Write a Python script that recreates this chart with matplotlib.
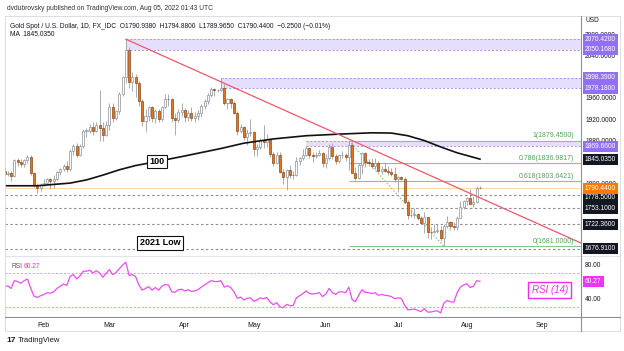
import numpy as np
import pandas as pd
import matplotlib
matplotlib.use('Agg')
import matplotlib.pyplot as plt
from matplotlib.lines import Line2D
from matplotlib.transforms import blended_transform_factory, offset_copy

plt.rcParams['font.family'] = ['Liberation Sans', 'DejaVu Sans']

# daily bars from 2022-01-14 to 2022-08-05 (weekdays)
start_date = '2022-01-14'

opens = [1822.0, 1817.8, 1819.5, 1812.9, 1842.6, 1839.6, 1835.4, 1843.2, 1848.5, 1819.9, 1796.6, 1791.2,
         1796.5, 1801.1, 1807.2, 1804.6, 1807.8, 1820.6, 1826.0, 1833.0, 1827.0, 1859.6, 1869.3, 1853.5,
         1869.7, 1898.1, 1898.2, 1905.5, 1898.3, 1910.1, 1903.3, 1889.6,
         1908.4, 1943.2, 1922.4, 1935.8, 1966.6, 1998.5, 2050.6, 1989.9, 2000.3, 1988.5, 1954.1, 1917.3,
         1927.0, 1942.8, 1921.4, 1935.6, 1921.0, 1943.9, 1958.1, 1958.0, 1922.7, 1918.9, 1933.3,
         1937.4, 1924.8, 1932.4, 1922.9, 1925.3, 1932.2, 1945.1, 1954.1, 1966.3, 1977.5, 1974.3, 1974.5,
         1978.5, 1950.3, 1958.2, 1951.1, 1931.9, 1898.4, 1905.0, 1886.3, 1894.7,
         1896.9, 1863.4, 1868.2, 1881.0, 1876.8, 1883.2, 1854.2, 1838.6, 1853.2, 1821.7, 1811.7, 1824.8,
         1815.9, 1815.8, 1841.6, 1846.3, 1853.6, 1865.5, 1853.4, 1851.0, 1853.3, 1855.9,
         1837.3, 1847.5, 1868.7, 1850.5, 1841.5, 1852.4, 1853.0, 1848.3, 1871.6, 1819.1, 1808.7, 1834.2,
         1857.0, 1840.5, 1838.7, 1832.6, 1838.4, 1822.7, 1826.7, 1822.5, 1820.6, 1817.6,
         1807.3, 1811.7, 1808.3, 1764.2, 1739.2, 1740.0, 1742.3, 1733.9, 1725.1, 1735.5, 1708.9, 1707.6,
         1709.2, 1711.2, 1696.2, 1718.5, 1727.2, 1719.3, 1717.3, 1735.0, 1755.8,
         1765.9, 1772.6, 1760.1, 1765.1, 1790.94]
highs = [1830.0, 1823.5, 1822.5, 1845.0, 1847.5, 1846.0, 1845.5, 1852.0, 1853.5, 1821.5, 1800.5, 1800.5,
         1807.5, 1809.0, 1809.5, 1815.5, 1823.0, 1829.0, 1836.0, 1842.0, 1865.0, 1873.0, 1874.5, 1873.5,
         1901.5, 1903.0, 1911.5, 1914.0, 1914.0, 1974.5, 1914.0, 1916.5,
         1950.0, 1950.5, 1937.0, 1970.5, 2002.0, 2070.4, 2056.0, 2009.0, 2004.5, 1992.0, 1958.5, 1939.5,
         1945.5, 1944.5, 1938.5, 1939.5, 1945.5, 1966.5, 1966.5, 1960.0, 1932.5, 1939.0, 1950.0,
         1941.0, 1937.5, 1943.5, 1934.0, 1936.5, 1948.0, 1958.5, 1970.0, 1981.0, 1978.5, 1977.5,
         1998.4, 1986.5, 1960.5, 1959.0, 1955.0, 1936.0, 1911.5, 1907.5, 1902.5, 1920.0,
         1898.5, 1873.5, 1884.5, 1909.5, 1892.0, 1884.5, 1859.0, 1858.5, 1858.0, 1827.0, 1826.0, 1834.5,
         1822.0, 1849.5, 1849.0, 1865.0, 1869.7, 1867.5, 1857.5, 1858.0, 1862.5, 1857.5,
         1855.5, 1874.0, 1874.5, 1854.5, 1855.0, 1860.0, 1857.0, 1879.45, 1877.0, 1831.0, 1837.5, 1857.5,
         1858.0, 1844.5, 1847.0, 1847.5, 1841.0, 1833.0, 1840.5, 1833.0, 1829.0, 1829.5,
         1812.5, 1813.5, 1812.0, 1768.5, 1752.0, 1752.5, 1744.0, 1737.5, 1745.5, 1736.0, 1717.0, 1723.5,
         1724.0, 1719.0, 1723.0, 1739.0, 1729.5, 1726.5, 1739.0, 1767.0, 1767.5,
         1774.5, 1788.0, 1776.0, 1794.0, 1794.88]
lows = [1812.5, 1813.0, 1804.5, 1811.5, 1833.0, 1830.0, 1831.0, 1838.0, 1815.5, 1793.5, 1780.5, 1785.5,
        1795.0, 1798.0, 1788.5, 1791.5, 1806.5, 1815.5, 1822.0, 1820.5, 1822.5, 1853.0, 1849.5, 1851.0,
        1865.5, 1886.5, 1895.0, 1890.0, 1896.0, 1878.5, 1878.5, 1888.0,
        1899.5, 1914.0, 1919.0, 1930.5, 1964.5, 1989.0, 1979.0, 1974.0, 1961.5, 1945.5, 1906.5, 1895.5,
        1916.0, 1915.5, 1913.5, 1914.0, 1916.5, 1941.0, 1944.5, 1915.5, 1890.0, 1915.0, 1926.5,
        1915.5, 1917.0, 1917.5, 1915.5, 1919.5, 1924.0, 1938.5, 1948.0, 1961.0, 1963.5, 1971.5,
        1973.5, 1946.5, 1938.5, 1940.5, 1929.5, 1891.0, 1894.5, 1880.5, 1872.5, 1888.0,
        1850.5, 1851.0, 1865.0, 1866.5, 1868.5, 1849.5, 1832.0, 1836.5, 1819.5, 1798.0, 1787.0, 1810.0,
        1807.0, 1813.0, 1834.5, 1844.0, 1851.5, 1846.5, 1840.5, 1847.0, 1850.5, 1830.5,
        1828.5, 1842.5, 1846.0, 1836.5, 1837.0, 1846.5, 1842.0, 1825.0, 1819.0, 1805.5, 1807.0, 1817.0,
        1830.5, 1832.0, 1829.0, 1826.5, 1821.0, 1817.5, 1820.5, 1816.0, 1812.5, 1802.5,
        1784.0, 1805.0, 1763.5, 1732.0, 1736.5, 1735.0, 1730.5, 1722.5, 1707.0, 1697.5, 1695.5, 1706.5,
        1705.5, 1692.0, 1681.0, 1715.5, 1712.0, 1711.5, 1711.5, 1735.0, 1750.5,
        1758.0, 1760.0, 1754.5, 1763.5, 1789.97]
closes = [1817.8, 1819.5, 1812.9, 1842.6, 1839.6, 1835.4, 1843.2, 1848.5, 1819.9, 1796.6, 1791.2, 1796.5,
          1801.1, 1807.2, 1804.6, 1807.8, 1820.6, 1826.0, 1833.0, 1827.0, 1859.6, 1869.3, 1853.5, 1869.7,
          1898.1, 1898.2, 1905.5, 1898.3, 1910.1, 1903.3, 1889.6, 1908.4,
          1943.2, 1922.4, 1935.8, 1966.6, 1998.5, 2050.6, 1989.9, 2000.3, 1988.5, 1954.1, 1917.3, 1927.0,
          1942.8, 1921.4, 1935.6, 1921.0, 1943.9, 1958.1, 1958.0, 1922.7, 1918.9, 1933.3, 1937.4,
          1924.8, 1932.4, 1922.9, 1925.3, 1932.2, 1945.1, 1954.1, 1966.3, 1977.5, 1974.3, 1974.5,
          1978.5, 1950.3, 1958.2, 1951.1, 1931.9, 1898.4, 1905.0, 1886.3, 1894.7, 1896.9,
          1863.4, 1868.2, 1881.0, 1876.8, 1883.2, 1854.2, 1838.6, 1853.2, 1821.7, 1811.7, 1824.8, 1815.9,
          1815.8, 1841.6, 1846.3, 1853.6, 1865.5, 1853.4, 1851.0, 1853.3, 1855.9, 1837.3,
          1847.5, 1868.7, 1850.5, 1841.5, 1852.4, 1853.0, 1848.3, 1871.6, 1819.1, 1808.7, 1834.2, 1857.0,
          1840.5, 1838.7, 1832.6, 1838.4, 1822.7, 1826.7, 1822.5, 1820.6, 1817.6, 1807.3,
          1811.7, 1808.3, 1764.2, 1739.2, 1740.0, 1742.3, 1733.9, 1725.1, 1735.5, 1708.9, 1707.6, 1709.2,
          1711.2, 1696.2, 1718.5, 1727.2, 1719.3, 1717.3, 1735.0, 1755.8, 1765.9,
          1772.6, 1760.1, 1765.1, 1790.6, 1790.44]

rsi = [54, 55, 52, 61, 60, 58, 61, 63, 52, 43, 41.5, 43.5,
       45, 47, 46.5, 48, 52, 54.5, 57, 55.5, 66, 68, 63, 66.5, 72, 72, 73, 70, 72.5, 70, 65, 69.5,
       74, 68, 70.5, 75, 79, 82.5, 67, 68, 65.5, 56, 50, 52, 54, 50, 53, 50, 54.5, 56.5, 56, 48, 47.5, 50.5, 51,
       49, 50.5, 48.5, 49, 50.5, 53.5, 56, 58.5, 61, 60, 60, 61, 53.5, 55, 53, 48, 40.5, 42, 38.5, 40.5, 41,
       37, 38.5, 41, 40, 41.5, 36, 33, 35.5, 30.5, 29.5, 33.5, 32, 32, 41, 43.5, 46, 49, 46, 45.5, 46, 47, 42.5,
       45.5, 52, 47, 45, 48, 48, 47, 53.5, 39, 36.5, 44, 50.5, 47.5, 47, 46, 47, 44, 45, 44, 43.5, 42.5, 40,
       41, 40.5, 32.5, 27, 27.5, 28, 26.5, 25, 28.5, 24.5, 24.5, 25.5, 26, 23.5, 35, 38, 36.5, 36, 46.5, 53.5, 56,
       57.5, 53, 54.5, 61, 60.27]

# 100-day moving average
ma_dates = ['2022-01-14', '2022-01-28', '2022-02-11', '2022-02-18', '2022-02-25', '2022-03-04',
            '2022-03-11', '2022-03-21', '2022-04-01', '2022-04-18', '2022-04-27', '2022-05-10',
            '2022-05-24', '2022-06-07', '2022-06-21', '2022-06-29', '2022-07-06', '2022-07-13',
            '2022-07-20', '2022-07-27', '2022-08-05']
ma_vals = [1795, 1795, 1800, 1806, 1815, 1825, 1833, 1840, 1851, 1865, 1875, 1883,
           1889, 1892, 1894.5, 1894, 1889, 1880, 1868, 1857, 1845.035]

# drawings
zone_start = ['2022-03-08', '2022-04-18', '2022-05-24']
zone_low = [2050.168, 1978.18, 1869.66]
zone_high = [2070.42, 1998.39, 1879.45]

fib_start = '2022-06-10'
fib_end = '2022-07-21'
fib_levels = [1, 0.786, 0.618, 0]
fib_prices = [1879.45, 1836.9817, 1803.6421, 1681.0]

trend_dates = ['2022-03-08', '2022-09-19']
trend_prices = [2070.42, 1686.8]

support_levels = [1778.5, 1753.1, 1722.36, 1676.91]
last_price = 1790.44
ma_last = 1845.035
rsi_last = 60.27

# price ticks that are not covered by the level labels
price_ticks = [1800, 1880, 1920, 1960, 2040, 2080]

# ---------------------------------------------------------------
W, H = 624, 351
dates = pd.bdate_range(start_date, '2022-09-30')
n = len(closes)
x = np.arange(n)
o = np.array(opens); h = np.array(highs); l = np.array(lows); c = np.array(closes)


def idx(d):
    return dates.get_loc(pd.Timestamp(d))


def px_box(left, top, right, bottom):
    return [left / W, 1 - bottom / H, (right - left) / W, (bottom - top) / H]


fig = plt.figure(figsize=(W / 100, H / 100), dpi=100)
ax = fig.add_axes(px_box(5, 16, 581, 256))
axr = fig.add_axes(px_box(5, 256, 581, 316.7), sharex=ax)

xmax = 175.8
ax.set_xlim(0.15, xmax)
ax.set_ylim(1663, 2114)
axr.set_ylim(19.1, 89.7)

# zones
for s, lo, hi in zip(zone_start, zone_low, zone_high):
    s = idx(s)
    ax.fill_between([s, xmax], lo, hi, color='#e6defd', lw=0, zorder=1)
    ax.hlines([lo, hi], s, xmax, colors='#a88ff5', linestyles=(0, (2, 2)), lw=0.7, zorder=1.5)

# horizontal levels
ax.hlines(support_levels, 0, xmax, colors='#8a8d96', linestyles=(0, (2.2, 2.2)), lw=0.8, zorder=1.5)
ax.axhline(last_price, color='#ffd8a8', lw=0.7, zorder=1.2)

# fibonacci
fs = idx(fib_start)
ax.hlines(fib_prices, fs, xmax, colors='#84c887', lw=0.8, zorder=1.6)
for lvl, p in zip(fib_levels, fib_prices):
    ax.text(xmax - 2, p + 2.5, f'{lvl:g}({p:.4f})', color='#4ea653', fontsize=5,
            ha='right', va='bottom', zorder=7)
ax.plot([fs, idx(fib_end)], [fib_prices[0], fib_prices[-1]], color='#84c887',
        ls=(0, (1.5, 1.5)), lw=0.8, zorder=1.6)

# candles
ax.vlines(x, l, h, color='#9a9da6', lw=0.6, zorder=3)
body = np.where(np.abs(c - o) < 0.8, np.where(c >= o, 0.8, -0.8), c - o)
up = c >= o
ax.bar(x[up], body[up], bottom=o[up], width=0.62, color='white', edgecolor='#8d9099', lw=0.5, zorder=4)
ax.bar(x[~up], body[~up], bottom=o[~up], width=0.62, color='#e3731c', edgecolor='#8f4a14', lw=0.5, zorder=4)

# moving average
ax.plot([idx(d) for d in ma_dates], ma_vals, color='#111111', lw=1.2, zorder=5)

# trend line
ax.plot([idx(d) for d in trend_dates], trend_prices, color='#f2566a', lw=0.9, zorder=5)

# annotations
ax.text(46.5, 1840.4, '100', fontsize=6.5, fontweight='bold', ha='center', va='center', zorder=8,
        bbox=dict(boxstyle='square,pad=0.25', fc='white', ec='#111111', lw=0.8))
ax.text(47.4, 1687.5, '2021 Low', fontsize=6.5, fontweight='bold', ha='center', va='center', zorder=8,
        bbox=dict(boxstyle='square,pad=0.25', fc='white', ec='#111111', lw=0.8))

# price scale
ax.yaxis.tick_right()
ax.set_yticks(price_ticks)
ax.yaxis.set_major_formatter(matplotlib.ticker.FormatStrFormatter('%.4f'))
ax.tick_params(axis='y', length=0, pad=3, labelsize=4.8, labelcolor='#131722')
ax.tick_params(axis='x', bottom=False, labelbottom=False)

tr = blended_transform_factory(ax.transAxes, ax.transData)
tr_down = offset_copy(tr, fig=fig, y=-2.5, units='dots')
xl = 1 + 4 / 576
labels = [(zone_high[0], '#9171f2', tr), (zone_low[0], '#9171f2', tr), (zone_high[1], '#9171f2', tr),
          (zone_low[1], '#9171f2', tr), (zone_low[2], '#9171f2', tr), (ma_last, '#131722', tr),
          (support_levels[0], '#131722', tr_down), (support_levels[1], '#131722', tr),
          (support_levels[2], '#131722', tr), (support_levels[3], '#131722', tr),
          (last_price, '#f57c00', tr)]
for p, col, t in labels:
    ax.text(xl, p, f'{p:.4f}', transform=t, fontsize=4.8, color='white', ha='left', va='center',
            clip_on=False, zorder=10, bbox=dict(boxstyle='square,pad=0.3', fc=col, ec='none'))

# RSI pane
axr.plot(x, rsi, color='#ea4df0', lw=0.9, zorder=3)
axr.axhline(70, color='#f28cf5', ls=(0, (2, 2)), lw=0.7)
axr.axhline(30, color='#f28cf5', ls=(0, (2, 2)), lw=0.7)
axr.yaxis.tick_right()
axr.set_yticks([40, 80])
axr.yaxis.set_major_formatter(matplotlib.ticker.FormatStrFormatter('%.2f'))
axr.tick_params(axis='y', length=0, pad=3, labelsize=4.8, labelcolor='#131722')
trr = blended_transform_factory(axr.transAxes, axr.transData)
axr.text(xl, rsi_last, f'{rsi_last:.2f}', transform=trr, fontsize=4.8, color='white', ha='left',
         va='center', clip_on=False, zorder=10, bbox=dict(boxstyle='square,pad=0.3', fc='#f032f5', ec='none'))
axr.text(166.3, 50.1, 'RSI (14)', fontsize=7, style='italic', color='#ee2cf2', ha='center', va='center',
         zorder=8, bbox=dict(boxstyle='square,pad=0.35', fc='white', ec='#ee2cf2', lw=1))

month_pos = [np.argmax((dates.month == m)) for m in range(2, 10)]
axr.set_xticks(month_pos)
axr.set_xticklabels([dates[i].strftime('%b') for i in month_pos])
axr.tick_params(axis='x', length=0, pad=4, labelsize=5, labelcolor='#131722')

for a in (ax, axr):
    for sp in a.spines.values():
        sp.set_visible(False)
    a.set_facecolor('none')


# frame lines
def fig_line(x0, y0, x1, y1, color, lw):
    fig.add_artist(Line2D([x0 / W, x1 / W], [1 - y0 / H, 1 - y1 / H], color=color, lw=lw))


fig_line(5, 16, 620, 16, '#d6d8de', 0.6)
fig_line(5, 331, 620, 331, '#d6d8de', 0.6)
fig_line(5, 16, 5, 331, '#d6d8de', 0.6)
fig_line(620, 16, 620, 331, '#d6d8de', 0.6)
fig_line(5, 256, 620, 256, '#e0e3eb', 0.8)
fig_line(5, 316.7, 620, 316.7, '#8e9199', 0.8)
fig_line(581, 16, 581, 331, '#8e9199', 0.8)

# header / footer texts
fig.text(7 / W, 1 - 8 / H, 'dvdubrovsky published on TradingView.com, Aug 05, 2022 01:43 UTC',
         fontsize=4.8, color='#333333', va='center')
fig.text(10 / W, 1 - 26 / H,
         'Gold Spot / U.S. Dollar, 1D, FX_IDC  O1790.9380  H1794.8800  L1789.9650  C1790.4400  \u22120.2500 (\u22120.01%)',
         fontsize=4.8, color='#131722', va='center')
fig.text(10 / W, 1 - 35 / H, 'MA  1845.0350', fontsize=4.8, color='#131722', va='center')
fig.text(585 / W, 1 - 21 / H, 'USD', fontsize=4.8, color='#131722', va='center')
fig.text(11 / W, 1 - 267 / H, 'RSI', fontsize=4.8, color='#555555', va='center')
fig.text(24 / W, 1 - 267 / H, f'{rsi_last:.2f}', fontsize=4.8, color='#ee2cf2', va='center')
fig.text(6 / W, 1 - 341 / H, '17', fontsize=6, fontweight='bold', color='#131722', va='center')
fig.text(18 / W, 1 - 341 / H, 'TradingView', fontsize=5.5, color='#131722', va='center')

fig.savefig('out.png', dpi=100, facecolor='white')
